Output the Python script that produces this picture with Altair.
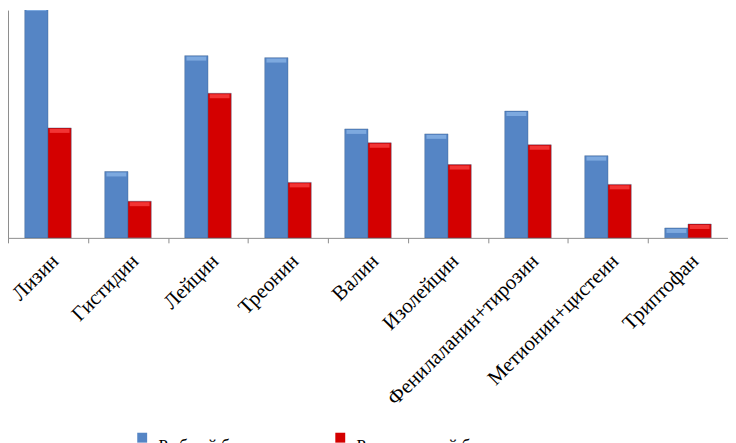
import altair as alt
import pandas as pd

categories = ["Лизин", "Гистидин", "Лейцин", "Треонин", "Валин", "Изолейцин",
              "Фенилаланин+тирозин", "Метионин+цистеин", "Триптофан"]
series_names = ["Рыбный белок", "Растительный белок"]
blue_values = [4.68, 1.34, 3.68, 3.64, 2.20, 2.10, 2.56, 1.66, 0.20]
red_values = [2.22, 0.74, 2.92, 1.12, 1.92, 1.48, 1.88, 1.08, 0.28]
y_ticks = [0, 1, 2, 3, 4]

rows = []
for c, b, r in zip(categories, blue_values, red_values):
    rows.append({"cat": c, "s": series_names[0], "v": b})
    rows.append({"cat": c, "s": series_names[1], "v": r})
df = pd.DataFrame(rows)

x = alt.X("cat:N", sort=categories,
          scale=alt.Scale(paddingInner=0, paddingOuter=0),
          axis=alt.Axis(title=None, labelAngle=-45, labelAlign="right",
                        labelBaseline="middle", labelFont="Liberation Serif",
                        labelFontSize=21, labelColor="black", tickBand="extent",
                        tickColor="#8c8c8c", domainColor="#8c8c8c", tickSize=5,
                        labelPadding=15, labelOffset=7, labelLimit=400,
                        labelOverlap=False))
xo = alt.XOffset("s:N", sort=series_names,
                 scale=alt.Scale(domain=series_names, paddingOuter=0.72, paddingInner=0))
y = alt.Y("v:Q", scale=alt.Scale(domain=[0, 4.6], nice=False, zero=True),
          axis=alt.Axis(title=None, labels=False, grid=False, values=y_ticks,
                        tickSize=4, tickColor="#8c8c8c", domainColor="#8c8c8c"))

bars = alt.Chart(df).mark_bar(clip=True, stroke="#3a5f8a", strokeWidth=0.4).encode(
    x=x, xOffset=xo, y=y,
    color=alt.Color("s:N", sort=series_names,
                    scale=alt.Scale(domain=series_names, range=["#5585C5", "#D40000"]),
                    legend=alt.Legend(title=None, orient="none", legendX=127, legendY=423,
                                      direction="horizontal", symbolType="square",
                                      symbolSize=100, symbolStrokeWidth=0,
                                      labelFont="Liberation Serif", labelFontSize=17,
                                      labelColor="black", labelBaseline="top",
                                      columnPadding=70, labelOffset=8)),
)

caps = alt.Chart(df).mark_tick(orient="horizontal", thickness=4, size=20, yOffset=3,
                               clip=True).encode(
    x=x, xOffset=xo, y=y,
    color=alt.condition(alt.datum.s == series_names[0],
                        alt.value("#8FB8EA"), alt.value("#FF4A4A")),
)

chart = alt.layer(bars, caps).properties(
    width=727, height=230,
    autosize=alt.AutoSizeParams(type="none"),
    padding={"left": 0, "top": 0, "right": 0, "bottom": 205},
).configure_view(stroke=None)

chart.save("out.html", embed_options={"renderer": "svg", "actions": False})
